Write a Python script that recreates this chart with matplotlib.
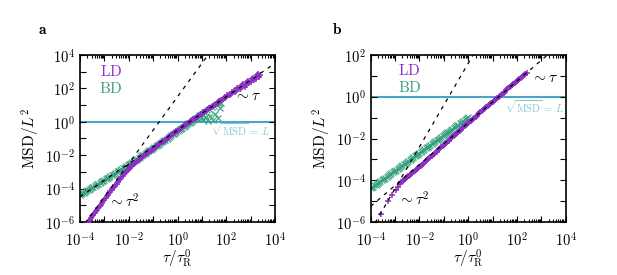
import numpy as np
import matplotlib
matplotlib.use("Agg")
import matplotlib.pyplot as plt
from matplotlib.ticker import LogLocator, FuncFormatter, NullFormatter

plt.rcParams['mathtext.fontset'] = 'cm'
plt.rcParams['font.family'] = 'DejaVu Serif'

# ---------------- data: (log10 tau, log10 MSD) pairs ----------------
# Panel a, LD
ld_a = [(-3.70, -6.06), (-3.65, -5.96), (-3.60, -5.86), (-3.55, -5.76), (-3.50, -5.66),
        (-3.45, -5.56), (-3.40, -5.46), (-3.35, -5.36), (-3.30, -5.26), (-3.25, -5.16),
        (-3.20, -5.06), (-3.15, -4.96), (-3.10, -4.86), (-3.05, -4.76), (-3.00, -4.66),
        (-2.95, -4.56), (-2.90, -4.47), (-2.85, -4.37), (-2.80, -4.27), (-2.75, -4.17),
        (-2.70, -4.08), (-2.65, -3.98), (-2.60, -3.89), (-2.55, -3.79), (-2.50, -3.70),
        (-2.45, -3.60), (-2.40, -3.51), (-2.35, -3.42), (-2.30, -3.33), (-2.25, -3.24),
        (-2.20, -3.15), (-2.15, -3.06), (-2.10, -2.98), (-2.05, -2.90), (-2.00, -2.82),
        (-1.95, -2.74), (-1.90, -2.67), (-1.85, -2.60), (-1.80, -2.53), (-1.75, -2.46),
        (-1.70, -2.40), (-1.65, -2.34), (-1.60, -2.28), (-1.55, -2.22), (-1.50, -2.16),
        (-1.45, -2.10), (-1.40, -2.05), (-1.35, -1.99), (-1.30, -1.94), (-1.25, -1.88),
        (-1.20, -1.83), (-1.15, -1.77), (-1.10, -1.72), (-1.05, -1.66), (-1.00, -1.61),
        (-0.95, -1.55), (-0.90, -1.50), (-0.85, -1.45), (-0.80, -1.40), (-0.75, -1.34),
        (-0.70, -1.29), (-0.65, -1.23), (-0.60, -1.18), (-0.55, -1.12), (-0.50, -1.07),
        (-0.45, -1.01), (-0.40, -0.96), (-0.35, -0.90), (-0.30, -0.85), (-0.25, -0.80),
        (-0.20, -0.75), (-0.15, -0.69), (-0.10, -0.64), (-0.05, -0.58), (0.00, -0.53),
        (0.05, -0.48), (0.10, -0.43), (0.15, -0.37), (0.20, -0.32), (0.25, -0.27),
        (0.30, -0.22), (0.35, -0.16), (0.40, -0.11), (0.45, -0.06), (0.50, -0.01),
        (0.55, 0.04), (0.60, 0.09), (0.65, 0.14), (0.70, 0.19), (0.75, 0.25),
        (0.80, 0.30), (0.85, 0.35), (0.90, 0.40), (0.95, 0.44), (1.00, 0.49),
        (1.05, 0.56), (1.10, 0.60), (1.15, 0.63), (1.20, 0.68), (1.25, 0.76),
        (1.30, 0.80), (1.35, 0.83), (1.40, 0.88), (1.45, 0.97), (1.50, 1.02),
        (1.55, 1.03), (1.60, 1.08), (1.65, 1.17), (1.70, 1.22), (1.75, 1.22),
        (1.80, 1.28), (1.85, 1.38), (1.90, 1.42), (1.95, 1.42), (2.00, 1.48),
        (2.05, 1.58), (2.10, 1.62), (2.15, 1.60), (2.20, 1.66), (2.25, 1.80),
        (2.30, 1.82), (2.35, 1.78), (2.40, 1.86), (2.45, 2.00), (2.50, 2.05),
        (2.55, 1.95), (2.60, 2.02), (2.65, 2.22), (2.70, 2.25), (2.75, 2.10),
        (2.80, 2.18), (2.85, 2.40), (2.90, 2.45), (2.95, 2.30), (3.00, 2.40),
        (3.05, 2.58), (3.10, 2.62), (3.15, 2.48), (3.20, 2.55), (3.25, 2.80),
        (3.30, 2.85), (3.35, 2.70), (3.40, 2.78)]

# Panel a, BD
bd_a = [(-4.00, -4.38), (-3.95, -4.33), (-3.90, -4.29), (-3.85, -4.24), (-3.80, -4.20),
        (-3.75, -4.15), (-3.70, -4.11), (-3.65, -4.06), (-3.60, -4.02), (-3.55, -3.97),
        (-3.50, -3.93), (-3.45, -3.88), (-3.40, -3.84), (-3.35, -3.79), (-3.30, -3.75),
        (-3.25, -3.70), (-3.20, -3.66), (-3.15, -3.61), (-3.10, -3.57), (-3.05, -3.52),
        (-3.00, -3.48), (-2.95, -3.43), (-2.90, -3.39), (-2.85, -3.34), (-2.80, -3.30),
        (-2.75, -3.25), (-2.70, -3.21), (-2.65, -3.16), (-2.60, -3.11), (-2.55, -3.07),
        (-2.50, -3.02), (-2.45, -2.97), (-2.40, -2.93), (-2.35, -2.88), (-2.30, -2.83),
        (-2.25, -2.79), (-2.20, -2.74), (-2.15, -2.69), (-2.10, -2.64), (-2.05, -2.60),
        (-2.00, -2.55), (-1.95, -2.50), (-1.90, -2.45), (-1.85, -2.40), (-1.80, -2.35),
        (-1.75, -2.31), (-1.70, -2.26), (-1.65, -2.21), (-1.60, -2.16), (-1.55, -2.11),
        (-1.50, -2.06), (-1.45, -2.01), (-1.40, -1.96), (-1.35, -1.91), (-1.30, -1.86),
        (-1.25, -1.81), (-1.20, -1.76), (-1.15, -1.71), (-1.10, -1.66), (-1.05, -1.61),
        (-1.00, -1.56), (-0.95, -1.51), (-0.90, -1.46), (-0.85, -1.41), (-0.80, -1.36),
        (-0.75, -1.31), (-0.70, -1.26), (-0.65, -1.21), (-0.60, -1.16), (-0.55, -1.11),
        (-0.50, -1.06), (-0.45, -1.01), (-0.40, -0.96), (-0.35, -0.91), (-0.30, -0.86),
        (-0.25, -0.81), (-0.20, -0.76), (-0.15, -0.71), (-0.10, -0.66), (-0.05, -0.61),
        (0.00, -0.56), (0.05, -0.51), (0.10, -0.46), (0.15, -0.41), (0.20, -0.36),
        (0.25, -0.31), (0.30, -0.26), (0.35, -0.20), (0.40, -0.15), (0.45, -0.10),
        (0.50, -0.05), (0.55, 0.00), (0.60, 0.05), (0.65, 0.10), (0.70, 0.15),
        (0.75, 0.20), (0.80, 0.25), (0.85, 0.30), (0.90, 0.42), (0.95, 0.20),
        (1.00, 0.48), (1.05, 0.15), (1.10, 0.58), (1.15, 0.30), (1.20, 0.70),
        (1.25, 0.05), (1.30, 0.78), (1.35, 0.35), (1.40, 0.86), (1.45, 0.10),
        (1.50, 0.95), (1.55, 0.45), (1.60, 1.05), (1.65, 0.25), (1.70, 1.12),
        (1.75, 0.80), (1.80, 1.15)]

# Panel b, LD
ld_b = [(-3.58, -5.60), (-3.28, -5.01), (-3.11, -4.69), (-2.98, -4.46), (-2.88, -4.30),
        (-2.81, -4.19), (-2.74, -4.10), (-2.68, -4.03), (-2.63, -3.98), (-2.58, -3.93),
        (-2.54, -3.89), (-2.50, -3.85), (-2.46, -3.81), (-2.43, -3.78), (-2.40, -3.75),
        (-2.35, -3.70), (-2.30, -3.65), (-2.25, -3.60), (-2.20, -3.55), (-2.15, -3.50),
        (-2.10, -3.45), (-2.05, -3.40), (-2.00, -3.35), (-1.95, -3.30), (-1.90, -3.25),
        (-1.85, -3.20), (-1.80, -3.15), (-1.75, -3.10), (-1.70, -3.05), (-1.65, -2.99),
        (-1.60, -2.94), (-1.55, -2.89), (-1.50, -2.84), (-1.45, -2.78), (-1.40, -2.73),
        (-1.35, -2.68), (-1.30, -2.63), (-1.25, -2.57), (-1.20, -2.52), (-1.15, -2.47),
        (-1.10, -2.42), (-1.05, -2.36), (-1.00, -2.31), (-0.95, -2.26), (-0.90, -2.21),
        (-0.85, -2.15), (-0.80, -2.10), (-0.75, -2.04), (-0.70, -1.99), (-0.65, -1.93),
        (-0.60, -1.88), (-0.55, -1.83), (-0.50, -1.78), (-0.45, -1.72), (-0.40, -1.67),
        (-0.35, -1.62), (-0.30, -1.57), (-0.25, -1.51), (-0.20, -1.46), (-0.15, -1.41),
        (-0.10, -1.36), (-0.05, -1.31), (0.00, -1.26), (0.05, -1.20), (0.10, -1.15),
        (0.15, -1.10), (0.20, -1.05), (0.25, -1.00), (0.30, -0.95), (0.35, -0.90),
        (0.40, -0.85), (0.45, -0.80), (0.50, -0.75), (0.55, -0.70), (0.60, -0.65),
        (0.65, -0.60), (0.70, -0.55), (0.75, -0.50), (0.80, -0.45), (0.85, -0.40),
        (0.90, -0.35), (0.95, -0.30), (1.00, -0.25), (1.05, -0.20), (1.10, -0.15),
        (1.15, -0.10), (1.20, -0.05), (1.25, 0.00), (1.30, 0.05), (1.35, 0.10),
        (1.40, 0.15), (1.45, 0.20), (1.50, 0.25), (1.55, 0.30), (1.60, 0.35),
        (1.65, 0.40), (1.70, 0.45), (1.75, 0.50), (1.80, 0.55), (1.85, 0.60),
        (1.90, 0.65), (1.95, 0.70), (2.00, 0.75), (2.05, 0.80), (2.10, 0.85),
        (2.15, 0.90), (2.20, 0.95), (2.25, 1.00), (2.30, 1.05), (2.35, 1.10),
        (2.40, 1.15)]

# Panel b, BD
bd_b = [(-4.00, -4.38), (-3.95, -4.34), (-3.90, -4.30), (-3.85, -4.25), (-3.80, -4.21),
        (-3.75, -4.17), (-3.70, -4.13), (-3.65, -4.09), (-3.60, -4.05), (-3.55, -4.00),
        (-3.50, -3.96), (-3.45, -3.92), (-3.40, -3.88), (-3.35, -3.83), (-3.30, -3.79),
        (-3.25, -3.75), (-3.20, -3.71), (-3.15, -3.66), (-3.10, -3.62), (-3.05, -3.58),
        (-3.00, -3.54), (-2.95, -3.49), (-2.90, -3.45), (-2.85, -3.41), (-2.80, -3.37),
        (-2.75, -3.32), (-2.70, -3.28), (-2.65, -3.24), (-2.60, -3.20), (-2.55, -3.15),
        (-2.50, -3.11), (-2.45, -3.07), (-2.40, -3.03), (-2.35, -2.98), (-2.30, -2.94),
        (-2.25, -2.90), (-2.20, -2.86), (-2.15, -2.81), (-2.10, -2.77), (-2.05, -2.73),
        (-2.00, -2.69), (-1.95, -2.64), (-1.90, -2.60), (-1.85, -2.56), (-1.80, -2.52),
        (-1.75, -2.47), (-1.70, -2.43), (-1.65, -2.39), (-1.60, -2.35), (-1.55, -2.30),
        (-1.50, -2.26), (-1.45, -2.22), (-1.40, -2.18), (-1.35, -2.13), (-1.30, -2.09),
        (-1.25, -2.05), (-1.20, -2.01), (-1.15, -1.96), (-1.10, -1.92), (-1.05, -1.88),
        (-1.00, -1.84), (-0.95, -1.79), (-0.90, -1.75), (-0.85, -1.71), (-0.80, -1.67),
        (-0.75, -1.62), (-0.70, -1.58), (-0.65, -1.54), (-0.60, -1.50), (-0.55, -1.45),
        (-0.50, -1.41), (-0.45, -1.37), (-0.40, -1.33), (-0.35, -1.28), (-0.30, -1.24),
        (-0.25, -1.20), (-0.20, -1.16), (-0.15, -1.11), (-0.10, -1.07), (-0.05, -1.03),
        (0.00, -0.99)]

# guide lines: log10 prefactors of ~tau^2 and ~tau
ballistic_a, diffusive_a = 1.5, -0.5
ballistic_b, diffusive_b = 1.6, -1.25

xlim = (1e-4, 1e4)
ylim_a = (1e-6, 1e4)
ylim_b = (1e-6, 1e2)

c_ld = '#8a2fc4'
c_bd = '#36a07e'
c_line = '#4aa6c9'
c_linetext = '#86c9db'

fig = plt.figure(figsize=(6.17, 2.75), dpi=100)
ax_a = fig.add_axes([80/617, 53/275, 195/617, 167/275])
ax_b = fig.add_axes([370.7/617, 53/275, 195/617, 167/275])

def fmt(v, pos):
    e = int(round(np.log10(v)))
    if e % 2 != 0:
        return ''
    return r'$10^{%d}$' % e

def style(ax, ylim):
    ax.set_xscale('log')
    ax.set_yscale('log')
    ax.set_xlim(*xlim)
    ax.set_ylim(*ylim)
    ax.xaxis.set_major_locator(LogLocator(base=10, numticks=30))
    ax.yaxis.set_major_locator(LogLocator(base=10, numticks=30))
    ax.xaxis.set_minor_locator(LogLocator(base=10, subs=np.arange(2, 10), numticks=30))
    ax.yaxis.set_minor_locator(LogLocator(base=10, subs=[], numticks=30))
    ax.xaxis.set_major_formatter(FuncFormatter(fmt))
    ax.yaxis.set_major_formatter(FuncFormatter(fmt))
    ax.xaxis.set_minor_formatter(NullFormatter())
    ax.yaxis.set_minor_formatter(NullFormatter())
    ax.tick_params(which='both', direction='in', top=True, right=True, labelsize=10.5, width=0.8)
    ax.tick_params(which='major', length=4)
    ax.tick_params(which='minor', length=2)
    ax.tick_params(axis='x', which='major', pad=6)
    for s in ax.spines.values():
        s.set_linewidth(1.2)
    ax.set_xlabel(r'$\tau/\tau_\mathrm{R}^0$', fontsize=11, labelpad=0)
    ax.set_ylabel(r'$\mathrm{MSD}/L^2$', fontsize=11, labelpad=2)

def panel(ax, ld, bd, bal, dif, ylim, pos):
    style(ax, ylim)
    ld_t, ld_m = np.array(ld).T
    bd_t, bd_m = np.array(bd).T
    tg = np.array(xlim)
    ax.plot(tg, 10**bal * tg**2, ls=(0, (3, 4)), color='black', lw=0.9, zorder=4)
    ax.plot(tg, 10**dif * tg, ls=(0, (3, 4)), color='black', lw=0.9, zorder=4)
    ax.axhline(1.0, color=c_line, lw=1.5, zorder=1)
    ax.plot(10**bd_t, 10**bd_m, ls='none', marker='x', ms=5, mew=0.8,
            color=c_bd, zorder=2)
    ax.plot(10**ld_t, 10**ld_m, ls='none', marker='+', ms=4.5, mew=1.1,
            color=c_ld, zorder=3)
    ax.text(pos['ld'][0], pos['ld'][1], r'$\mathrm{LD}$', color=c_ld, fontsize=11,
            transform=ax.transAxes, ha='center', va='center')
    ax.text(pos['bd'][0], pos['bd'][1], r'$\mathrm{BD}$', color=c_bd, fontsize=11,
            transform=ax.transAxes, ha='center', va='center')
    ax.text(pos['tau'][0], pos['tau'][1], r'$\sim\tau$', fontsize=11,
            transform=ax.transAxes, ha='center', va='center')
    ax.text(pos['tau2'][0], pos['tau2'][1], r'$\sim\tau^2$', fontsize=11,
            transform=ax.transAxes, ha='center', va='center')
    ax.text(pos['sq'][0], pos['sq'][1], r'$\sqrt{\mathrm{MSD}}\,=\,L$', fontsize=7.5,
            color=c_linetext, transform=ax.transAxes, ha='right', va='center')

panel(ax_a, ld_a, bd_a, ballistic_a, diffusive_a, ylim_a,
      dict(ld=(0.159, 0.904), bd=(0.159, 0.802), tau=(0.86, 0.755), tau2=(0.226, 0.12),
           sq=(0.975, 0.55)))
panel(ax_b, ld_b, bd_b, ballistic_b, diffusive_b, ylim_b,
      dict(ld=(0.2, 0.906), bd=(0.2, 0.806), tau=(0.889, 0.862), tau2=(0.222, 0.132),
           sq=(0.99, 0.69)))

fig.text(43/617, 1 - 30/275, r'$\mathbf{a}$', fontsize=11, ha='center', va='center')
fig.text(337/617, 1 - 30/275, r'$\mathbf{b}$', fontsize=11, ha='center', va='center')

fig.savefig('out.png', dpi=100)
